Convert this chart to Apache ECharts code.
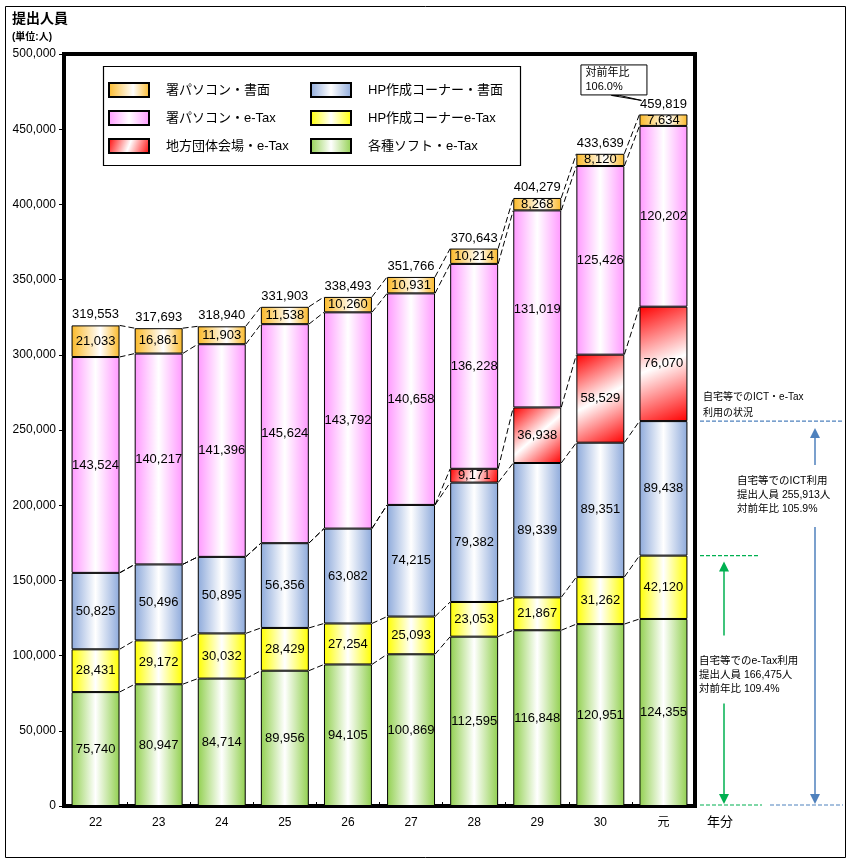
<!DOCTYPE html>
<html><head><meta charset="utf-8">
<script src="https://cdn.jsdelivr.net/npm/echarts@6/dist/echarts.min.js"></script>
<style>html,body{margin:0;padding:0;background:#fff}#c{width:851px;height:862px}</style>
</head><body><div id="c"></div>
<script>
const categories = ['22','23','24','25','26','27','28','29','30','元'];
const soft    = [75740, 80947, 84714, 89956, 94105, 100869, 112595, 116848, 120951, 124355];
const hpEtax  = [28431, 29172, 30032, 28429, 27254, 25093, 23053, 21867, 31262, 42120];
const hpPaper = [50825, 50496, 50895, 56356, 63082, 74215, 79382, 89339, 89351, 89438];
const local   = [null, null, null, null, null, null, 9171, 36938, 58529, 76070];
const pcEtax  = [143524, 140217, 141396, 145624, 143792, 140658, 136228, 131019, 125426, 120202];
const pcPaper = [21033, 16861, 11903, 11538, 10260, 10931, 10214, 8268, 8120, 7634];
const totals  = [319553, 317693, 318940, 331903, 338493, 351766, 370643, 404279, 433639, 459819];
const yMin = 0, yMax = 500000, yStep = 50000;
const ictUsers = 255913, ictRatio = '105.9%';
const etaxUsers = 166475, etaxRatio = '109.4%';
const lastRatio = '106.0%';

const FONT = "'Liberation Sans', Arial, 'Noto Sans CJK JP', sans-serif";
const fmt = v => v.toLocaleString('en-US');
const BAR_RATIO = 0.76;

function hGrad(c, mid){ return new echarts.graphic.LinearGradient(0,0,1,0,[{offset:0,color:c},{offset:mid,color:'#ffffff'},{offset:1,color:c}]); }
function dGrad(c){ return new echarts.graphic.LinearGradient(0,0,1,1,[{offset:0,color:c},{offset:0.5,color:'#ffffff'},{offset:1,color:c}]); }

const seriesDefs = [
  {name:'各種ソフト・e-Tax', data:soft, color:hGrad('#92D050',0.5)},
  {name:'HP作成コーナーe-Tax', data:hpEtax, color:hGrad('#FFFF00',0.5)},
  {name:'HP作成コーナー・書面', data:hpPaper, color:hGrad('#8EAADB',0.5)},
  {name:'地方団体会場・e-Tax', data:local, color:dGrad('#FF0000')},
  {name:'署パソコン・e-Tax', data:pcEtax, color:hGrad('#FF99FF',0.5)},
  {name:'署パソコン・書面', data:pcPaper, color:hGrad('#FBB928',0.6)}
];

const series = seriesDefs.map(s => ({
  name: s.name, type:'bar', stack:'a', data:s.data, barWidth:(BAR_RATIO*100)+'%',
  itemStyle:{color:s.color, borderColor:'#000', borderWidth:1},
  label:{show:true, position:'inside', color:'#000', fontSize:13, fontFamily:FONT,
    formatter:p => (p.value==null ? '' : fmt(p.value))},
  emphasis:{disabled:true}, animation:false
}));

// connecting dashed lines between the tops of each series
let cum = categories.map(()=>0);
seriesDefs.forEach(s => {
  cum = cum.map((c,i)=> c + (s.data[i]||0));
  const tops = cum.slice();
  const segs = [];
  for (let i=0;i<tops.length-1;i++) segs.push([i, tops[i], tops[i+1]]);
  series.push({
    type:'custom', silent:true, animation:false, z:3,
    encode:{x:0, y:[1,2]}, data:segs,
    renderItem:(params, api) => {
      const i = api.value(0);
      const bw = api.size([1,0])[0]*BAR_RATIO;
      const p0 = api.coord([i, api.value(1)]);
      const p1 = api.coord([i+1, api.value(2)]);
      return {type:'line', shape:{x1:p0[0]+bw/2, y1:p0[1], x2:p1[0]-bw/2, y2:p1[1]},
        style:{stroke:'#000', lineWidth:1, lineDash:[6,3]}};
    }
  });
});

// totals above bars
series.push({
  type:'custom', silent:true, animation:false, z:4,
  encode:{x:0, y:1}, data: totals.map((t,i)=>[i,t]),
  renderItem:(params, api) => {
    const p = api.coord([api.value(0), api.value(1)]);
    return {type:'text', x:p[0], y:p[1]-4, style:{text:fmt(api.value(1)), fill:'#000', font:'13px '+FONT, align:'center', verticalAlign:'bottom'}};
  }
});

const chart = echarts.init(document.getElementById('c'), null, {renderer:'canvas'});
const legendCommon = {orient:'vertical', icon:'rect', itemWidth:40, itemHeight:14, itemGap:12, padding:0, selectedMode:false,
  textStyle:{fontSize:13, color:'#000', fontFamily:FONT, lineHeight:14, padding:[0,0,0,12]}};
chart.setOption({
  animation:false,
  grid:{left:64, right:156, top:54, bottom:56, show:true, borderColor:'#000', borderWidth:4, backgroundColor:'transparent'},
  legend:[
    Object.assign({left:108, top:82, data:['署パソコン・書面','署パソコン・e-Tax','地方団体会場・e-Tax']}, legendCommon),
    Object.assign({left:310, top:82, data:['HP作成コーナー・書面','HP作成コーナーe-Tax','各種ソフト・e-Tax']}, legendCommon)
  ],
  xAxis:{type:'category', data:categories, axisLine:{show:false},
    axisTick:{show:true, inside:true, length:4, lineStyle:{color:'#000'}},
    axisLabel:{color:'#000', fontSize:12, margin:11, fontFamily:"'Liberation Sans Narrow', 'Liberation Sans', 'Noto Sans CJK JP', sans-serif"}},
  yAxis:{type:'value', min:yMin, max:yMax, interval:yStep, splitLine:{show:false}, axisLine:{show:false},
    axisTick:{show:true, length:5, lineStyle:{color:'#000'}},
    axisLabel:{color:'#000', fontSize:12, fontFamily:FONT, margin:8, formatter:v=>fmt(v)}},
  series: series
});

function build(){
  const Y = v => chart.convertToPixel({yAxisIndex:0}, v);
  const X = c => chart.convertToPixel({xAxisIndex:0}, c);
  const y0 = Y(0), yI = Y(ictUsers), yE = Y(etaxUsers);
  const xl = X(categories[categories.length-1]), yt = Y(totals[totals.length-1]);
  const blue = '#4F81BD', green = '#00B050';
  const txt = (x,y,t,size,extra) => Object.assign({type:'text', x:x, y:y, style:{text:t, fill:'#000', font:size+'px '+FONT, verticalAlign:'middle'}}, extra||{});
  const arrowUp = (x, tip, c) => ({type:'polygon', shape:{points:[[x,tip],[x-5,tip+10],[x+5,tip+10]]}, style:{fill:c}});
  const arrowDown = (x, tip, c) => ({type:'polygon', shape:{points:[[x,tip],[x-5,tip-10],[x+5,tip-10]]}, style:{fill:c}});
  const vline = (x, a, b, c) => ({type:'line', shape:{x1:x, y1:a, x2:x, y2:b}, style:{stroke:c, lineWidth:1.5}});
  const dline = (a, b, y, c) => ({type:'line', shape:{x1:a, y1:y, x2:b, y2:y}, style:{stroke:c, lineWidth:1.2, lineDash:[4,2]}});
  const g = [
    {type:'rect', shape:{x:5.5, y:6.5, width:840, height:851}, style:{fill:null, stroke:'#000', lineWidth:1}, z:-1},
    {type:'rect', shape:{x:103.5, y:66.5, width:417, height:99}, style:{fill:null, stroke:'#000', lineWidth:1.2}},
    {type:'text', x:12, y:19, style:{text:'提出人員', fill:'#000', font:'bold 14px '+FONT, verticalAlign:'middle'}},
    {type:'text', x:12, y:37, style:{text:'(単位:人)', fill:'#000', font:'bold 10px '+FONT, verticalAlign:'middle'}},
    {type:'text', x:720, y:822, style:{text:'年分', fill:'#000', font:'13px '+FONT, align:'center', verticalAlign:'middle'}},
    // callout
    {type:'polygon', shape:{points:[[xl-52,yt-19],[xl-44,yt-19],[xl-22,yt-14]]}, style:{fill:'#fff', stroke:'#000', lineWidth:1}},
    {type:'rect', shape:{x:xl-82.5, y:yt-49.5, width:66, height:30}, style:{fill:'#fff', stroke:'#000', lineWidth:1}},
    txt(xl-78, yt-41, '対前年比', 11),
    txt(xl-78, yt-27, lastRatio, 11),
    // ICT annotation
    txt(703, yI-24, '自宅等でのICT・e-Tax', 10),
    txt(703, yI-8, '利用の状況', 10),
    dline(700, 843, yI, blue),
    arrowUp(815, yI+7, blue), vline(815, yI+15, yI+44, blue),
    txt(737, yI+60, '自宅等でのICT利用', 10.5),
    txt(737, yI+74, '提出人員 ' + fmt(ictUsers) + '人', 10.5),
    txt(737, yI+88, '対前年比 ' + ictRatio, 10.5),
    vline(815, yI+106, y0-8, blue), arrowDown(815, y0-2, blue),
    // e-Tax annotation
    dline(700, 760, yE, green),
    arrowUp(724, yE+6, green), vline(724, yE+14, yE+80, green),
    txt(699, yE+105, '自宅等でのe-Tax利用', 10.5),
    txt(699, yE+119, '提出人員 ' + fmt(etaxUsers) + '人', 10.5),
    txt(699, yE+133, '対前年比 ' + etaxRatio, 10.5),
    vline(724, yE+148, y0-8, green), arrowDown(724, y0-2, green),
    dline(700, 762, y0-1, green),
    dline(770, 843, y0-1, blue)
  ];
  chart.setOption({graphic: g});
}
build();
</script>
</body></html>
